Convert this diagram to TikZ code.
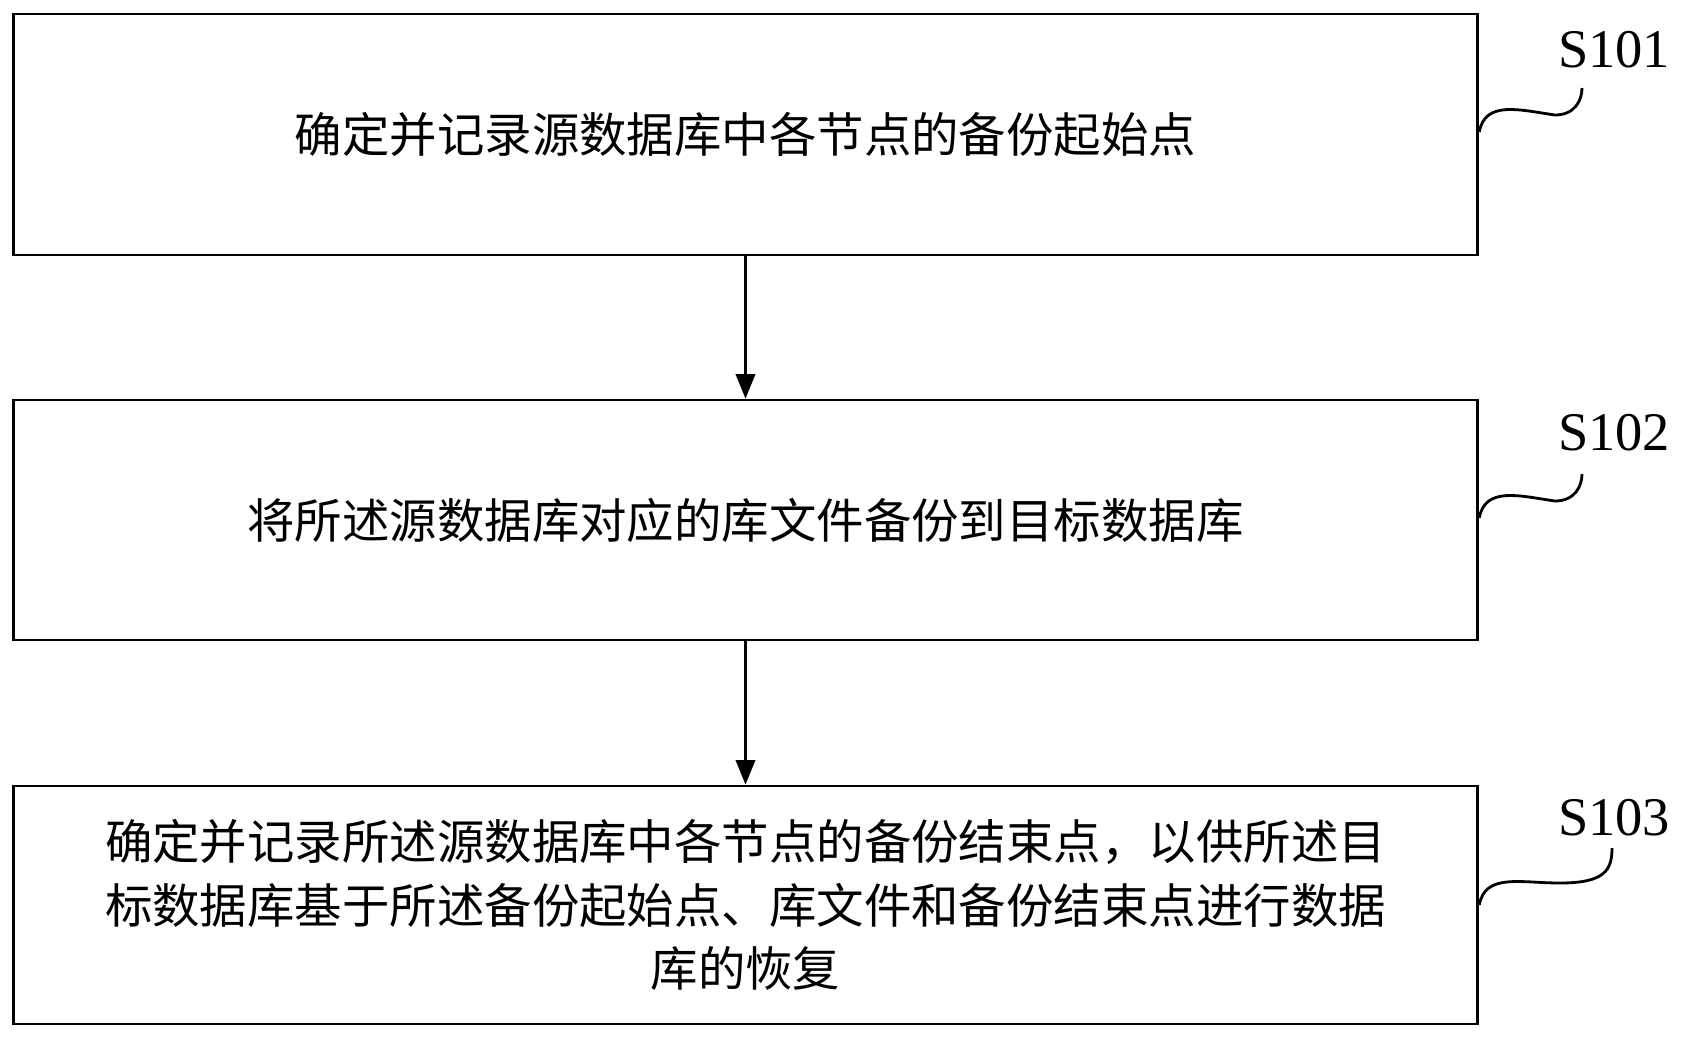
\documentclass[tikz,border=0pt]{standalone}
\usepackage{fontspec}
\setmainfont{Liberation Serif}
\newfontfamily\cjk{Noto Sans CJK SC}
\usetikzlibrary{arrows.meta}
\begin{document}
\begin{tikzpicture}[x=0.02cm,y=-0.02cm,
  stepbox/.style={draw,line width=1.6pt,minimum width=29.3cm,inner sep=0pt,align=center,font=\cjk\fontsize{27}{36}\selectfont},
  tag/.style={font=\fontsize{31}{34}\selectfont}]
\useasboundingbox (0,0) rectangle (1681,1039);
\node[stepbox,minimum height=4.82cm] (s1) at (745.5,134.5) {确定并记录源数据库中各节点的备份起始点};
\node[stepbox,minimum height=4.8cm] (s2) at (745.5,520) {将所述源数据库对应的库文件备份到目标数据库};
\node[stepbox,minimum height=4.76cm] (s3) at (745.5,905) {确定并记录所述源数据库中各节点的备份结束点，以供所述目\\标数据库基于所述备份起始点、库文件和备份结束点进行数据\\库的恢复};
\draw[line width=1.6pt,-{Triangle[length=14pt,width=11pt]}] (s1) -- (s2);
\draw[line width=1.6pt,-{Triangle[length=14pt,width=11pt]}] (s2) -- (s3);
\node[tag] (t1) at (1614,50) {S101};
\node[tag] (t2) at (1614,433) {S102};
\node[tag] (t3) at (1614,818) {S103};
\draw[line width=1.6pt] (s1.east |- 0,132) .. controls (1485,100) and (1520,110) .. (1555,115) .. controls (1575,115) and (1582,100) .. (1582,88);
\draw[line width=1.6pt] (s2.east |- 0,518) .. controls (1485,486) and (1520,496) .. (1555,501) .. controls (1575,501) and (1582,486) .. (1582,474);
\draw[line width=1.6pt] (s3.east |- 0,905) .. controls (1485,873) and (1520,883) .. (1560,883) .. controls (1605,883) and (1612,870) .. (1612,848);
\end{tikzpicture}
\end{document}
